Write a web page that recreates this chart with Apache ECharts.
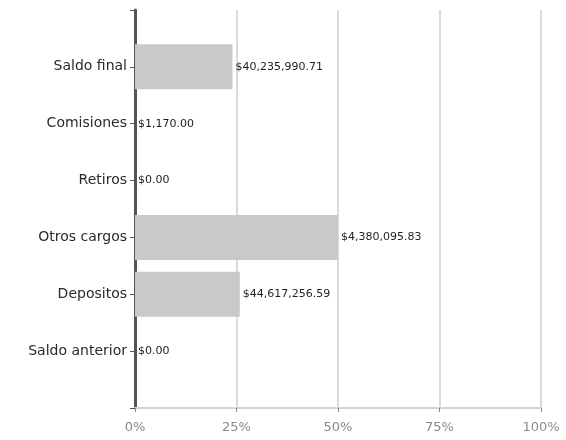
<!DOCTYPE html>
<html><head><meta charset="utf-8">
<script src="https://cdn.jsdelivr.net/npm/echarts@6/dist/echarts.min.js"></script>
<style>html,body{margin:0;padding:0;background:#fff}#c{width:566px;height:440px}</style>
</head><body><div id="c"></div>
<script>
const categories = ['', 'Saldo anterior', 'Depositos', 'Otros cargos', 'Retiros', 'Comisiones', 'Saldo final', ''];
const percentValues = [null, 0, 25.8, 50, 0, 0, 24, null];
const valueLabels = ['', '$0.00', '$44,617,256.59', '$4,380,095.83', '$0.00', '$1,170.00', '$40,235,990.71', ''];
const xTicks = [0, 25, 50, 75, 100];

const chart = echarts.init(document.getElementById('c'));
chart.setOption({
  animation: false,
  backgroundColor: '#fff',
  grid: { left: 135, right: 25, top: 10, bottom: 32, containLabel: false },
  xAxis: {
    type: 'value', min: xTicks[0], max: xTicks[xTicks.length - 1], interval: 25,
    axisLine: { show: true, lineStyle: { color: '#d4d4d4', width: 2 } },
    axisTick: { show: true, length: 4, lineStyle: { color: '#888' } },
    axisLabel: { color: '#8a8a8a', fontFamily: 'DejaVu Sans', fontSize: 13, margin: 13, formatter: v => v + '%' },
    splitLine: { show: true, lineStyle: { color: '#dadada', width: 2 } }
  },
  yAxis: {
    type: 'category', data: categories, boundaryGap: false,
    axisLine: { show: true, lineStyle: { color: '#555', width: 3 } },
    axisTick: { show: true, length: 5, lineStyle: { color: '#555' } },
    axisLabel: { color: '#2a2a2a', fontFamily: 'DejaVu Sans', fontSize: 14, margin: 8 },
    splitLine: { show: false }
  },
  series: [{
    type: 'bar', data: percentValues, barWidth: 45,
    itemStyle: { color: '#c9c9c9' },
    label: {
      show: true, position: 'right', distance: 3,
      fontFamily: 'DejaVu Sans', fontSize: 11, color: '#1e1e1e',
      formatter: p => valueLabels[p.dataIndex]
    }
  }]
});
</script></body></html>
